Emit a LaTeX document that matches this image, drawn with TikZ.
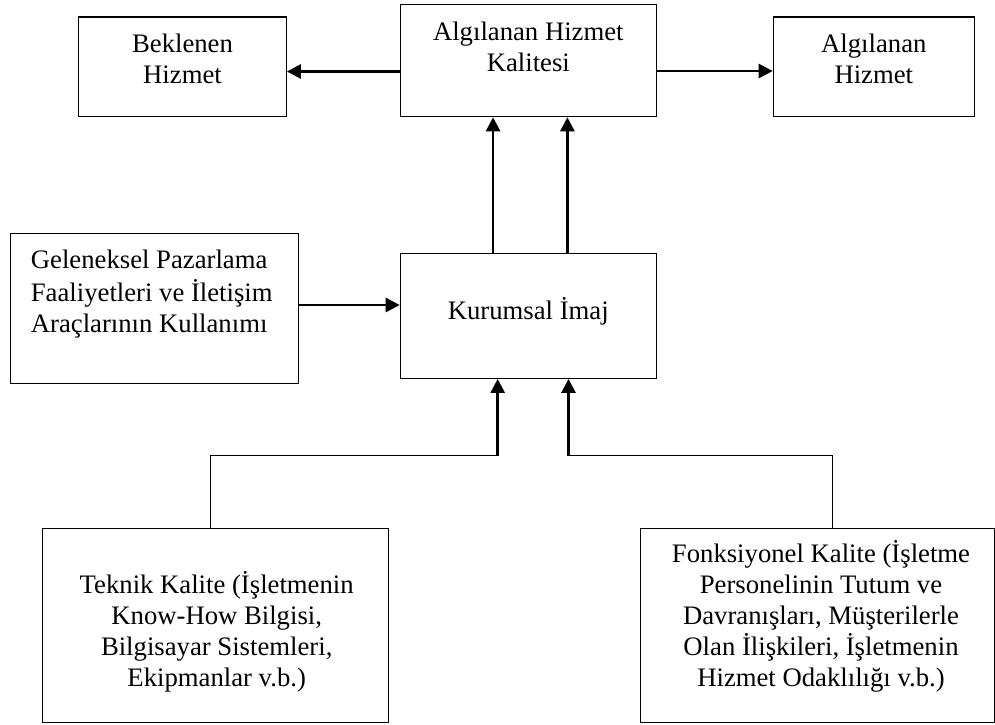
\documentclass[tikz,border=0pt]{standalone}
\usepackage{fontspec}
\setmainfont{Liberation Serif}
\usetikzlibrary{arrows.meta,calc}
\begin{document}
\begin{tikzpicture}[x=1pt,y=-1pt,
  box/.style={draw,line width=1.2pt,rectangle,inner sep=0pt},
  txt/.style={inner sep=0pt,align=center,font=\fontsize{26.7}{31}\selectfont},
  arr/.style={line width=2.7pt,-{Triangle[length=14pt,width=14pt]}},
  thin/.style={line width=1.2pt}]
\useasboundingbox (0,0) rectangle (995,724);
% boxes
\node[box,minimum width=207.6pt,minimum height=99.7pt] (bek) at (182.5,66.85) {};
\node[box,minimum width=256pt,minimum height=112.4pt] (ahk) at (528.3,60.5) {};
\node[box,minimum width=201pt,minimum height=99.7pt] (ah) at (873.8,66.85) {};
\node[box,minimum width=288.4pt,minimum height=149.6pt] (gel) at (154.5,308.5) {};
\node[box,minimum width=256pt,minimum height=125pt] (kur) at (528.3,315.8) {};
\node[box,minimum width=346pt,minimum height=194.4pt] (tek) at (215.7,625.5) {};
\node[box,minimum width=354pt,minimum height=194.4pt] (fon) at (817.8,625.5) {};
% texts
\node[txt,anchor=north] (bekt) at (182.5,31) {\strut Beklenen\\Hizmet};
\node[txt,anchor=north] (ahkt) at (528.3,18.5) {\strut Algılanan Hizmet\\Kalitesi};
\node[txt,anchor=north] (aht) at (873.8,30.7) {\strut Algılanan\\Hizmet};
\node[txt,anchor=north west,align=left] (gelt) at (30.7,247) {\strut Geleneksel Pazarlama\\Faaliyetleri ve İletişim\\Araçlarının Kullanımı};
\node[txt,anchor=north] (kurt) at (528.3,297.3) {\strut Kurumsal İmaj};
\node[txt,anchor=north] (tekt) at (216.7,571.7) {\strut Teknik Kalite (İşletmenin\\Know-How Bilgisi,\\Bilgisayar Sistemleri,\\Ekipmanlar v.b.)};
\node[txt,anchor=north] (font) at (821,540.7) {\strut Fonksiyonel Kalite (İşletme\\Personelinin Tutum ve\\Davranışları, Müşterilerle\\Olan İlişkileri, İşletmenin\\Hizmet Odaklılığı v.b.)};
% top arrows
\draw[arr] ([yshift=-11pt]ahk.west) -- ([yshift=-11pt]ahk.west -| bek.east);
\draw[arr] ([yshift=-10.5pt]ahk.east) -- ([yshift=-10.5pt]ahk.east -| ah.west);
% Kurumsal -> AHK
\draw[arr] ($(kur.north west)!0.363!(kur.north east)$) -- ($(ahk.south west)!0.363!(ahk.south east)$);
\draw[arr] ($(kur.north west)!0.652!(kur.north east)$) -- ($(ahk.south west)!0.652!(ahk.south east)$);
% Geleneksel -> Kurumsal
\draw[arr] ([yshift=3.5pt]gel.east) -- ([yshift=3.5pt]gel.east -| kur.west);
% bottom elbows
\coordinate (tk) at (497.7,455.7);
\coordinate (fk) at (568.5,455.7);
\draw[thin] ($(tek.north west)!0.484!(tek.north east)$) |- (tk);
\draw[thin] ($(fon.north west)!0.541!(fon.north east)$) |- (fk);
\draw[arr] (tk) -- (tk |- kur.south);
\draw[arr] (fk) -- (fk |- kur.south);
\end{tikzpicture}
\end{document}
